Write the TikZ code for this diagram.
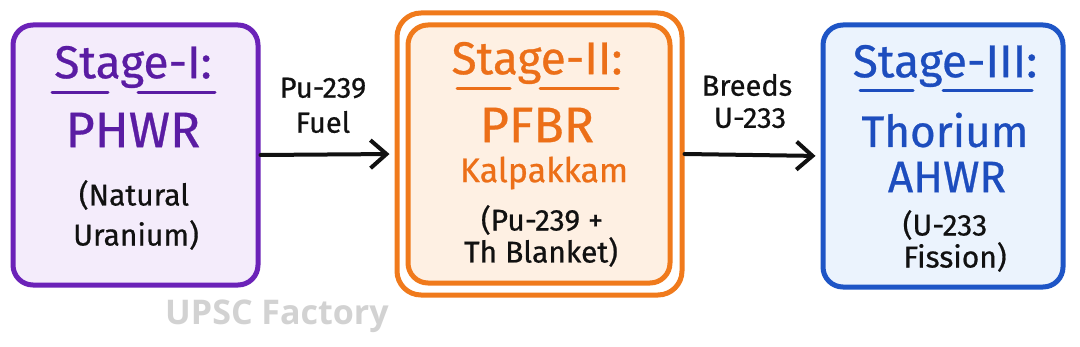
\documentclass[tikz,border=0pt]{standalone}
\usepackage{fontspec}
\setmainfont{Fira Sans}[UprightFeatures={FakeBold=0.6}]
\newfontfamily\wmfont{Open Sans}
\usetikzlibrary{arrows.meta}
\definecolor{pborder}{HTML}{6B22B8}
\definecolor{pfill}{HTML}{F4ECFB}
\definecolor{ptext}{HTML}{5A1CA3}
\definecolor{oborder}{HTML}{F07A1C}
\definecolor{ofill}{HTML}{FEF0E3}
\definecolor{otext}{HTML}{EC6F18}
\definecolor{bborder}{HTML}{1E55C6}
\definecolor{bfill}{HTML}{EBF3FD}
\definecolor{btext}{HTML}{1D4DBE}
\definecolor{wmgray}{HTML}{D2D2D2}
\definecolor{ink}{HTML}{111111}
\tikzset{
  stagebox/.style={draw, line width=2.5pt, rounded corners=10pt, inner sep=0pt},
  titletxt/.style={font=\fontsize{23}{26}\selectfont, inner sep=0pt},
  bigtxt/.style={font=\fontsize{25}{28}\selectfont, inner sep=0pt},
  thtxt/.style={font=\fontsize{22}{25}\selectfont, inner sep=0pt},
  midtxt/.style={font=\fontsize{17}{20}\selectfont, inner sep=0pt},
  smalltxt/.style={font=\fontsize{15}{18}\selectfont, inner sep=0pt, text=ink},
  lbltxt/.style={font=\fontsize{14.5}{17}\selectfont, inner sep=0pt, text=ink},
  uline/.style={line width=1.5pt, line cap=round},
  flow/.style={draw=ink, line width=2pt, -{Straight Barb[length=8pt,width=14pt,line width=2pt]}, shorten >=2.5pt, line cap=round},
}
\begin{document}
\begin{tikzpicture}[x=0.5pt,y=-0.5pt]
\useasboundingbox[fill=white] (0,0) rectangle (1080,347);
% boxes
\node[stagebox, draw=pborder, fill=pfill, minimum width=122.5pt, minimum height=130pt] (b1) at (135.5,155) {};
\node[stagebox, draw=oborder, fill=white, minimum width=142.5pt, minimum height=141pt, rounded corners=12pt] (b2o) at (539.5,154) {};
\node[stagebox, draw=oborder, fill=ofill, minimum width=131pt, minimum height=129pt] (b2) at (539,154) {};
\node[stagebox, draw=bborder, fill=bfill, minimum width=120pt, minimum height=131pt] (b3) at (943,156) {};
% stage I
\node[titletxt, text=ptext] (t1) at (133,67) {Stage-I:};
\draw[uline, draw=ptext] (52,93) -- (108,93) (138,93) -- (215,93);
\node[bigtxt, text=ptext] (n1) at (133,130) {PHWR};
\node[smalltxt] (s1a) at (134,195) {(Natural};
\node[smalltxt] (s1b) at (136,235) {Uranium)};
% stage II
\node[titletxt, text=otext] (t2) at (537,63) {Stage-II:};
\draw[uline, draw=otext] (457,89) -- (510,89) (540,89) -- (618,89);
\node[bigtxt, text=otext] (n2) at (537,125) {PFBR};
\node[midtxt, text=otext] (k2) at (544,173) {Kalpakkam};
\node[smalltxt] (s2a) at (542,220) {(Pu-239 +};
\node[smalltxt] (s2b) at (541,252) {Th Blanket)};
% stage III
\node[titletxt, text=btext] (t3) at (945,66) {Stage-III:};
\draw[uline, draw=btext] (860,91) -- (913,91) (943,91) -- (1032,91);
\node[thtxt, text=btext] (n3) at (945,130) {Thorium};
\node[thtxt, text=btext] (a3) at (947,177) {AHWR};
\node[smalltxt] (s3a) at (945,225) {(U-233};
\node[smalltxt] (s3b) at (955,257) {Fission)};
% arrows
\draw[flow] (b1.east) -- (b2o.west);
\draw[flow] (b2o.east) -- (b3.west);
\node[lbltxt] (l1a) at (323,88) {Pu-239};
\node[lbltxt] (l1b) at (323,122) {Fuel};
\node[lbltxt] (l2a) at (747,85) {Breeds};
\node[lbltxt] (l2b) at (750,118) {U-233};
% watermark
\node[font=\wmfont\bfseries\fontsize{17}{20}\selectfont, text=wmgray, inner sep=0pt] (wm) at (277,316) {UPSC Factory};
\end{tikzpicture}
\end{document}
